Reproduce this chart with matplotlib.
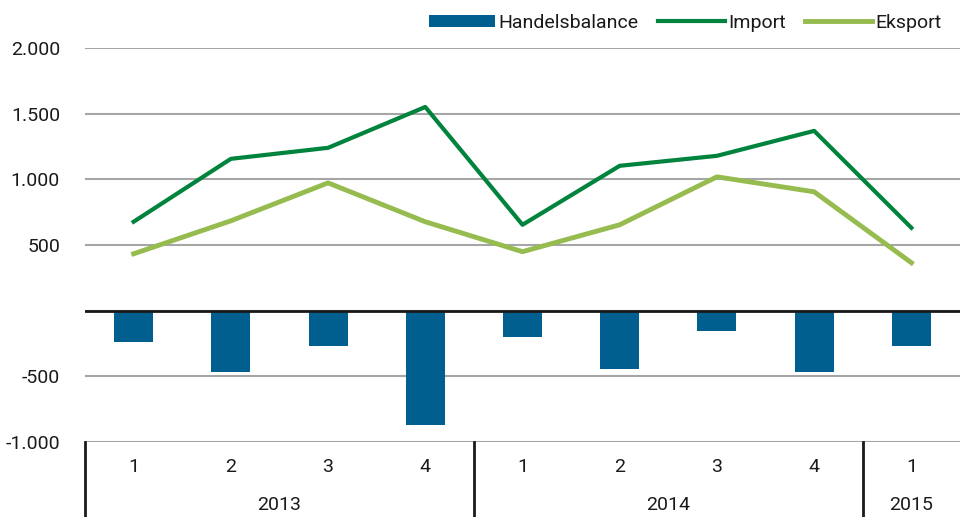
import matplotlib
matplotlib.use("Agg")
import matplotlib.pyplot as plt
import matplotlib.transforms as mtransforms
from matplotlib.ticker import FuncFormatter

plt.rcParams['font.family'] = ['Roboto', 'DejaVu Sans']

quarters = ['1', '2', '3', '4', '1', '2', '3', '4', '1']
years = ['2013', '2014', '2015']
year_counts = [4, 4, 1]
handelsbalance = [-236, -464, -266, -874, -198, -441, -152, -464, -266]
imports = [677, 1156, 1240, 1551, 654, 1103, 1179, 1369, 631]
eksport = [433, 684, 973, 677, 449, 654, 1019, 905, 365]

fig = plt.figure(figsize=(9.6, 5.17), dpi=100)
ax = fig.add_axes([85/960, 75/517, 875/960, 394/517])

x = list(range(len(quarters)))
b = ax.bar(x, handelsbalance, width=0.4, color='#005f8f', label='Handelsbalance', zorder=3)
l1, = ax.plot(x, imports, color='#00843d', lw=3, label='Import', zorder=4)
l2, = ax.plot(x, eksport, color='#96bb4f', lw=3.5, label='Eksport', zorder=4)

ax.set_xlim(-0.5, len(quarters) - 0.5)
ax.set_ylim(-1000, 2000)
ax.set_yticks([-1000, -500, 0, 500, 1000, 1500, 2000])

def fmt(v, pos):
    if v == 0:
        return ''
    s = f"{abs(int(v)):,}".replace(',', '.')
    return ('-' if v < 0 else '') + s
ax.yaxis.set_major_formatter(FuncFormatter(fmt))
ax.tick_params(axis='y', length=0, pad=18, labelsize=14, colors='#1a1a1a')
ax.set_xticks([])
ax.grid(axis='y', color='#a6a6a6', lw=1.5, zorder=0)
ax.axhline(0, color='#1a1a1a', lw=2, zorder=5)
for s in ax.spines.values():
    s.set_visible(False)

trans = mtransforms.blended_transform_factory(ax.transData, fig.transFigure)
for i, q in enumerate(quarters):
    ax.text(i, (517-467)/517, q, transform=trans, ha='center', va='center', fontsize=14, color='#1a1a1a')

start = 0
bounds = [start - 0.5]
for yr, c in zip(years, year_counts):
    mid = start + (c - 1) / 2
    ax.text(mid, (517-505)/517, yr, transform=trans, ha='center', va='center', fontsize=14, color='#1a1a1a')
    start += c
    bounds.append(start - 0.5)
for bd in bounds[:-1]:
    ax.plot([bd, bd], [0, 75/517], transform=trans, color='#1a1a1a', lw=2, clip_on=False)

leg = fig.legend([b, l1, l2], ['Handelsbalance', 'Import', 'Eksport'],
                 loc='upper right', bbox_to_anchor=(0.995, 1.0), ncol=3, frameon=False,
                 fontsize=14, handlelength=3.4, handleheight=0.6, handletextpad=0.2,
                 columnspacing=1.0, borderaxespad=0.3)
for t in leg.get_texts():
    t.set_color('#1a1a1a')

fig.savefig('out.png', dpi=100)
